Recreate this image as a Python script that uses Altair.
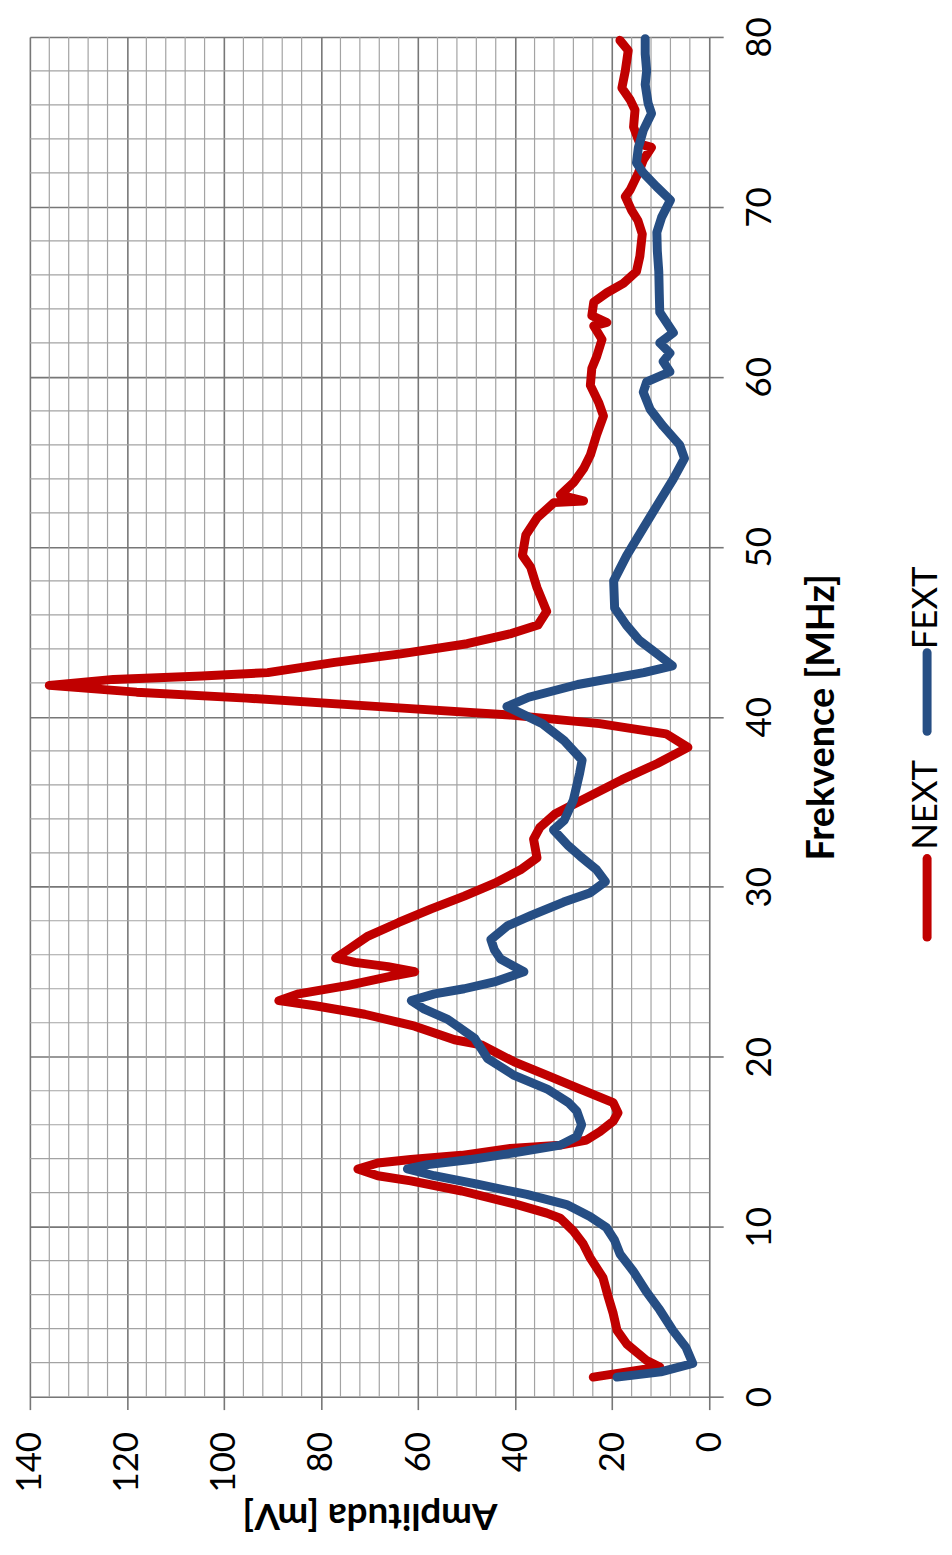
import altair as alt
import pandas as pd

# ---------------- data ----------------
next_freq = [1.15, 1.75, 2.15, 3.1, 3.9, 4.9, 5.85, 7.0, 8.2, 9.0, 9.75, 10.5, 10.8, 11.3, 12.1, 12.7,
             13.0, 13.4, 13.75, 13.95, 14.2, 14.6, 14.8, 15.1, 15.6, 16.2, 16.7, 17.3, 18.1, 18.9, 19.7,
             20.7, 21.0, 21.8, 22.5, 23.0, 23.3, 23.7, 24.2, 24.7, 25.0, 25.3, 25.55, 25.8, 26.3, 27.1,
             27.9, 28.7, 29.45, 30.2, 31.0, 31.7, 32.8, 33.5, 34.3, 35.1, 36.3, 37.25, 38.2, 39.0, 39.6,
             40.1, 40.6, 41.1, 41.45, 41.85, 42.2, 42.4, 42.6, 43.2, 43.7, 44.3, 44.9, 45.4, 46.2, 47.6,
             48.8, 49.5, 50.7, 51.7, 52.6, 52.7, 53.05, 53.8, 54.6, 55.4, 56.6, 57.7, 58.5, 59.5, 60.5,
             61.2, 62.2, 63.0, 63.2, 63.6, 64.4, 64.95, 65.5, 66.2, 67.1, 68.4, 69.2, 69.8, 70.6, 71.0,
             72.0, 72.75, 73.5, 73.7, 74.7, 75.7, 76.3, 77.0, 78.0, 79.2, 79.8]
next_amp = [23.9, 10.2, 13.0, 17.0, 19.0, 19.8, 20.8, 21.9, 24.6, 26.0, 28.0, 30.7, 33.5, 39.6, 51.0, 61.5,
            68.3, 72.4, 68.3, 61.5, 51.0, 41.0, 30.7, 25.3, 22.5, 19.8, 18.8, 19.8, 26.6, 33.4, 40.2,
            47.0, 52.5, 60.7, 71.0, 81.2, 88.7, 84.6, 74.4, 66.2, 60.7, 66.2, 73.0, 77.0, 74.4, 70.3,
            64.0, 57.3, 50.5, 44.3, 38.9, 35.5, 36.2, 34.9, 31.7, 26.2, 18.0, 10.7, 4.4, 8.9, 22.6,
            40.8, 68.0, 95.4, 118.0, 136.0, 122.8, 104.6, 91.0, 77.2, 63.6, 49.9, 40.8, 35.3, 33.5, 35.5,
            36.8, 38.5, 37.8, 35.5, 32.0, 25.9, 30.7, 27.9, 25.9, 24.5, 23.2, 21.8, 22.8, 24.5, 24.2,
            23.2, 22.1, 23.8, 21.1, 24.2, 23.8, 21.1, 17.7, 15.0, 14.3, 13.8, 14.7, 16.0, 17.3, 16.3,
            14.6, 13.6, 11.9, 14.3, 15.6, 15.3, 16.3, 18.0, 17.3, 16.7, 18.4]

fext_freq = [1.15, 1.46, 1.95, 2.9, 3.9, 5.1, 6.2, 7.4, 8.4, 9.2, 9.95, 10.6, 11.3, 11.9, 12.5, 13.0,
             13.4, 13.65, 13.95, 14.4, 14.8, 15.3, 16.0, 16.8, 17.3, 18.1, 18.9, 19.9, 21.1, 22.2, 22.8,
             23.3, 23.7, 24.0, 24.4, 25.0, 25.75, 26.3, 26.9, 27.7, 28.3, 29.1, 29.65, 30.3, 31.0, 31.8,
             32.4, 33.35, 33.9, 35.1, 36.7, 37.45, 38.6, 39.6, 40.6, 41.15, 41.9, 42.6, 43.0, 43.7, 44.5,
             45.4, 46.4, 48.0, 49.5, 51.1, 52.7, 54.0, 55.2, 56.0, 57.1, 58.1, 59.1, 59.7, 60.3, 60.9,
             61.4, 62.0, 62.6, 63.2, 63.8, 64.9, 66.2, 67.4, 68.5, 69.4, 70.4, 71.2, 72.0, 72.6, 73.5,
             74.5, 75.5, 76.1, 77.2, 78.0, 79.0, 79.9]
fext_amp = [19.0, 10.0, 3.4, 4.8, 7.5, 10.2, 13.0, 15.7, 18.4, 19.5, 21.2, 24.6, 29.4, 37.6, 47.8, 56.7,
            62.2, 58.0, 49.2, 39.0, 30.7, 27.3, 26.3, 27.3, 29.0, 33.4, 40.2, 45.7, 48.4, 53.9, 58.7,
            61.4, 56.6, 50.5, 44.3, 38.2, 43.0, 44.3, 45.0, 41.6, 36.8, 30.0, 24.5, 21.4, 23.2, 26.6,
            29.0, 32.1, 29.9, 28.0, 26.7, 26.2, 29.9, 34.4, 41.7, 37.2, 27.1, 13.5, 7.6, 10.7, 14.4,
            17.1, 19.5, 19.7, 17.0, 13.6, 10.2, 7.4, 5.1, 6.1, 9.5, 12.2, 13.6, 12.9, 8.1, 9.5,
            8.1, 10.2, 7.4, 8.8, 10.2, 10.3, 10.4, 10.7, 10.8, 9.8, 8.0, 10.9, 13.6, 15.0, 14.6,
            13.6, 11.9, 12.6, 13.2, 12.9, 13.2, 13.2]

series_names = ["NEXT", "FEXT"]
series_colors = ["#C00000", "#264E84"]

amp_major = [0, 20, 40, 60, 80, 100, 120, 140]
freq_major = [0, 10, 20, 30, 40, 50, 60, 70, 80]
amp_minor = [v for v in range(0, 141, 4) if v % 20 != 0]
freq_minor = [v for v in range(0, 81, 2) if v % 10 != 0]

# ---------------- layout ----------------
W, H = 683, 1367
FONT = "Lato"

next_df = pd.DataFrame({"freq": next_freq, "amp": next_amp, "series": "NEXT"})
fext_df = pd.DataFrame({"freq": fext_freq, "amp": fext_amp, "series": "FEXT"})

x_scale = alt.Scale(domain=[0, 140], reverse=True, nice=False, zero=False)
y_scale = alt.Scale(domain=[0, 80], nice=False, zero=False)

x_axis = alt.Axis(
    orient="bottom", values=amp_major, format="d",
    labelAngle=270, labelFontSize=35, labelFont=FONT, labelColor="#000000",
    labelPadding=22, labelFlush=False, labelOverlap=False,
    tickSize=13, tickColor="#777777", tickWidth=1.6,
    grid=True, gridColor="#777777", gridWidth=1.6,
    domain=False,
    title="Amplituda [mV]", titleAngle=180, titleFont=FONT, titleFontSize=37,
    titleFontWeight="bold", titleColor="#000000",
    titleBaseline="middle", titleAlign="center", titleX=W / 2, titleY=118,
)
y_axis = alt.Axis(
    orient="right", values=freq_major, format="d",
    labelAngle=270, labelFontSize=35, labelFont=FONT, labelColor="#000000",
    labelAlign="center", labelBaseline="top",
    labelPadding=20, labelFlush=False, labelOverlap=False,
    tickSize=14, tickColor="#777777", tickWidth=1.6,
    grid=True, gridColor="#777777", gridWidth=1.6,
    domain=False,
    title="Frekvence [MHz]", titleAngle=270, titleFont=FONT, titleFontSize=38,
    titleFontWeight="bold", titleColor="#000000",
    titleBaseline="middle", titleAlign="center", titleX=114, titleY=H / 2,
)

minor_x = alt.Chart(pd.DataFrame({"amp": amp_minor})).mark_rule(
    color="#a3a3a3", strokeWidth=1.2
).encode(x=alt.X("amp:Q", scale=x_scale, axis=x_axis))

minor_y = alt.Chart(pd.DataFrame({"freq": freq_minor})).mark_rule(
    color="#a3a3a3", strokeWidth=1.2
).encode(y=alt.Y("freq:Q", scale=y_scale, axis=y_axis))

color_scale = alt.Scale(domain=series_names, range=series_colors)

def series_line(df):
    return alt.Chart(df).mark_line(
        strokeWidth=9, strokeCap="round", strokeJoin="round"
    ).encode(
        x=alt.X("amp:Q", scale=x_scale, axis=x_axis),
        y=alt.Y("freq:Q", scale=y_scale, axis=y_axis),
        order=alt.Order("freq:Q"),
        color=alt.Color("series:N", scale=color_scale, legend=None),
    )

line_next = series_line(next_df)
line_fext = series_line(fext_df)

# ---------------- custom rotated legend ----------------
leg_df = pd.DataFrame({"series": series_names})

def legend_entry(name, color, y_top, y_bot, y_text):
    d = leg_df[leg_df["series"] == name]
    sym = alt.Chart(d).mark_rule(strokeWidth=9, strokeCap="round", color=color).encode(
        x=alt.value(902), y=alt.value(y_top), y2=alt.value(y_bot)
    )
    txt = alt.Chart(d).mark_text(
        angle=270, align="center", baseline="middle", font=FONT, fontSize=35, color="#000000"
    ).encode(x=alt.value(901), y=alt.value(y_text), text="series:N")
    return sym + txt

leg_next = legend_entry("NEXT", series_colors[0], 826, 905, 772)
leg_fext = legend_entry("FEXT", series_colors[1], 619, 698, 574)

chart = alt.layer(
    minor_x, minor_y, line_next, line_fext, leg_next, leg_fext
).properties(
    width=W, height=H,
    autosize=alt.AutoSizeParams(type="none"),
    padding={"left": 22, "top": 25, "right": 236, "bottom": 140},
).configure_view(stroke=None).configure(background="white")

chart.save("out.html", embed_options={"renderer": "svg", "actions": False})
